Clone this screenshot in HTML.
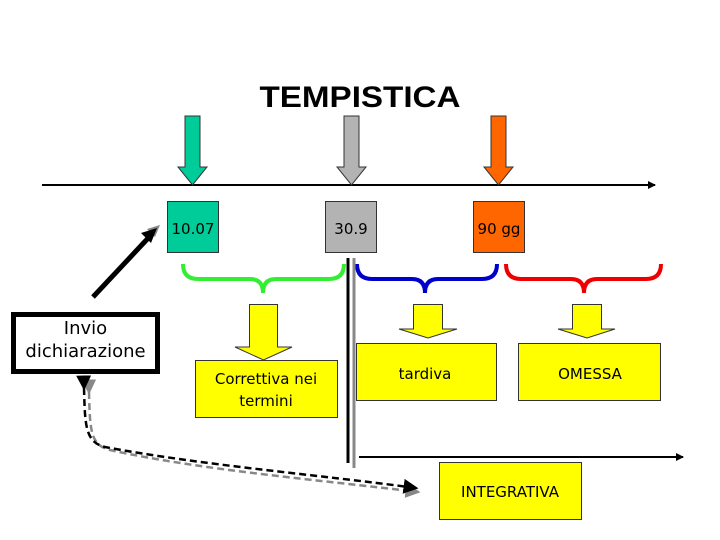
<!DOCTYPE html>
<html><head><meta charset="utf-8"><style>
html,body{margin:0;padding:0;background:#fff;}
svg{display:block;}
text{font-family:"DejaVu Sans","Liberation Sans",sans-serif;}
</style></head><body>
<svg width="720" height="540" viewBox="0 0 720 540" xmlns="http://www.w3.org/2000/svg">
<defs>
<marker id="ah" markerWidth="8" markerHeight="8" refX="7" refY="4" orient="auto" markerUnits="userSpaceOnUse"><path d="M0,0 L8,4 L0,8 z" fill="#000"/></marker>
<marker id="ahb" markerWidth="6" markerHeight="6" refX="5" refY="3" orient="auto"><path d="M0,0 L6,3 L0,6 z" fill="#000"/></marker>
<marker id="ahg" markerWidth="6" markerHeight="6" refX="5" refY="3" orient="auto"><path d="M0,0 L6,3 L0,6 z" fill="#888"/></marker>
</defs>
<text x="360" y="107" text-anchor="middle" font-family="Liberation Sans" font-weight="bold" font-size="30" textLength="201" lengthAdjust="spacingAndGlyphs" style="font-family:'Liberation Sans',sans-serif">TEMPISTICA</text>

<line x1="42" y1="185" x2="655" y2="185" stroke="#000" stroke-width="2" marker-end="url(#ah)"/>

<!-- down arrows -->
<path d="M185,116 H200 V167 H207 L192.5,185 L178,167 H185 Z" fill="#00cc99" stroke="#333" stroke-width="1"/>
<path d="M344,116 H359 V167 H366 L351.5,185 L337,167 H344 Z" fill="#b3b3b3" stroke="#333" stroke-width="1"/>
<path d="M491,116 H506 V167 H513 L498.5,185 L484,167 H491 Z" fill="#ff6600" stroke="#333" stroke-width="1"/>

<!-- date boxes -->
<rect x="167.5" y="201.5" width="51" height="51" fill="#00cc99" stroke="#333"/>
<text x="193" y="234" text-anchor="middle" font-size="15">10.07</text>
<rect x="325.5" y="201.5" width="51" height="51" fill="#b3b3b3" stroke="#333"/>
<text x="351" y="234" text-anchor="middle" font-size="15">30.9</text>
<rect x="473.5" y="201.5" width="51" height="51" fill="#ff6600" stroke="#333"/>
<text x="499" y="234" text-anchor="middle" font-size="15">90 gg</text>

<!-- braces -->
<path d="M183,264 Q183,279 198,279 H250 Q263,279 263,293 Q263,279 276,279 H329 Q344,279 344,264" fill="none" stroke="#33ee33" stroke-width="4"/>
<path d="M357,264 Q357,279 372,279 H412 Q425,279 425,293 Q425,279 438,279 H482 Q497,279 497,264" fill="none" stroke="#0000cc" stroke-width="4"/>
<path d="M506,264 Q506,279 521,279 H571 Q584,279 584,293 Q584,279 597,279 H646 Q661,279 661,264" fill="none" stroke="#ee0000" stroke-width="4"/>

<!-- vertical lines -->
<line x1="348" y1="258" x2="348" y2="463" stroke="#000" stroke-width="3"/>
<line x1="354" y1="258" x2="354" y2="468" stroke="#888" stroke-width="3"/>

<!-- yellow arrows -->
<path d="M249.5,304.5 H277.5 V347 H292 L263.5,360 L235,347 H249.5 Z" fill="#ffff00" stroke="#333"/>
<path d="M413.5,304.5 H442.5 V329 H457 L428,338 L399,329 H413.5 Z" fill="#ffff00" stroke="#333"/>
<path d="M572.5,304.5 H601.5 V329 H615 L587,338 L558,329 H572.5 Z" fill="#ffff00" stroke="#333"/>

<!-- yellow boxes -->
<rect x="195.5" y="360.5" width="142" height="57" fill="#ffff00" stroke="#333"/>
<text x="266" y="384" text-anchor="middle" font-size="15">Correttiva nei</text>
<text x="266" y="406" text-anchor="middle" font-size="15">termini</text>
<rect x="356.5" y="343.5" width="140" height="57" fill="#ffff00" stroke="#333"/>
<text x="425" y="379" text-anchor="middle" font-size="15">tardiva</text>
<rect x="518.5" y="343.5" width="142" height="57" fill="#ffff00" stroke="#333"/>
<text x="590" y="379" text-anchor="middle" font-size="15">OMESSA</text>
<rect x="439.5" y="462.5" width="142" height="57" fill="#ffff00" stroke="#333"/>
<text x="510" y="497" text-anchor="middle" font-size="15">INTEGRATIVA</text>

<line x1="359" y1="457" x2="683" y2="457" stroke="#000" stroke-width="2" marker-end="url(#ah)"/>

<!-- Invio box -->
<rect x="13.5" y="314.5" width="144" height="57" fill="#fff" stroke="#000" stroke-width="5"/>
<text x="85.5" y="334" text-anchor="middle" font-size="18">Invio</text>
<text x="85.5" y="357" text-anchor="middle" font-size="18">dichiarazione</text>

<!-- black arrow -->
<path d="M160,225 L147,229 L155,237 Z" fill="#888"/>
<line x1="93" y1="297" x2="152" y2="234" stroke="#000" stroke-width="5"/>
<path d="M157,228 L141,233 L151,243 Z" fill="#000"/>

<!-- dashed curves -->
<path d="M89,392 C90,430 90,445 110,450 C200,470 320,480 418,492" fill="none" stroke="#888" stroke-width="2.5" stroke-dasharray="7,4" marker-start="url(#ahg)" marker-end="url(#ahg)"/>
<path d="M84,388 C85,425 85,442 105,447 C200,465 320,475 416,488" fill="none" stroke="#000" stroke-width="2.5" stroke-dasharray="7,4" marker-start="url(#ahb)" marker-end="url(#ahb)"/>
</svg>
</body></html>
